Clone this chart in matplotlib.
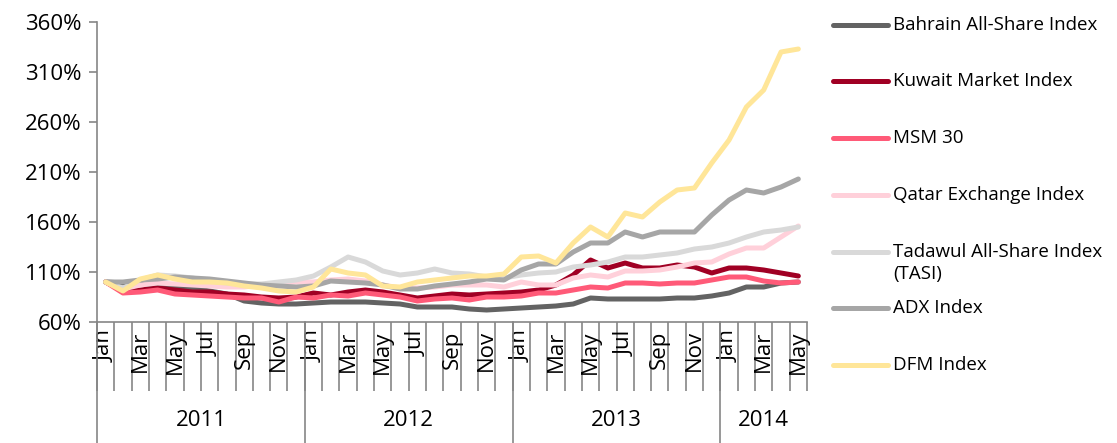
import matplotlib
matplotlib.use('Agg')
import matplotlib.pyplot as plt
import matplotlib.transforms as mtransforms
from matplotlib.lines import Line2D

plt.rcParams['font.family'] = ['Open Sans', 'DejaVu Sans']

# categories
years = ['2011', '2012', '2013', '2014']
months_per_year = [12, 12, 12, 5]
month_names = ['Jan', 'Feb', 'Mar', 'Apr', 'May', 'Jun',
               'Jul', 'Aug', 'Sep', 'Oct', 'Nov', 'Dec']
shown_months = ['Jan', 'Mar', 'May', 'Jul', 'Sep', 'Nov']

# index values (Jan 2011 = 100%)
bahrain = [100, 99, 98, 97, 96, 94, 91, 88, 81, 79, 78, 78,
           79, 80, 80, 80, 79, 78, 75, 75, 75, 73, 72, 73,
           74, 75, 76, 78, 84, 83, 83, 83, 83, 84, 84, 86,
           89, 95, 95, 99, 100]
kuwait = [100, 91, 92, 94, 92, 90, 90, 88, 87, 85, 84, 85,
          89, 87, 90, 92, 90, 87, 84, 86, 88, 87, 88, 89,
          90, 92, 97, 107, 122, 114, 119, 114, 114, 117, 115, 109,
          114, 114, 112, 109, 106]
msm30 = [100, 89, 90, 92, 88, 87, 86, 85, 84, 84, 80, 85,
         84, 87, 86, 89, 87, 85, 81, 83, 84, 82, 85, 85,
         86, 89, 89, 92, 95, 94, 99, 99, 98, 99, 99, 102,
         105, 105, 101, 99, 100]
qatar = [100, 93, 97, 99, 98, 97, 96, 95, 95, 97, 99, 100,
         100, 102, 103, 101, 97, 94, 94, 95, 97, 97, 97, 95,
         100, 97, 97, 104, 107, 105, 111, 111, 112, 115, 119, 120,
         128, 134, 134, 145, 156]
tadawul = [100, 94, 102, 107, 106, 104, 101, 99, 98, 98, 100, 102,
           106, 115, 125, 120, 111, 107, 109, 113, 109, 108, 105, 104,
           107, 109, 110, 115, 117, 120, 125, 125, 127, 129, 133, 135,
           139, 145, 150, 152, 155]
adx = [100, 100, 102, 103, 105, 104, 103, 101, 99, 97, 96, 95,
       96, 101, 100, 99, 97, 93, 93, 96, 98, 100, 103, 102,
       112, 118, 118, 130, 139, 139, 150, 145, 150, 150, 150, 167,
       182, 192, 189, 195, 203]
dfm = [100, 91, 103, 107, 103, 100, 100, 99, 96, 94, 91, 90,
       95, 113, 109, 107, 96, 95, 100, 102, 104, 106, 106, 108,
       125, 126, 119, 139, 155, 145, 169, 165, 180, 192, 194, 219,
       242, 275, 292, 330, 333]

series = [
    ('Bahrain All-Share Index', bahrain, '#636363'),
    ('Kuwait Market Index', kuwait, '#a00024'),
    ('MSM 30', msm30, '#ff5a78'),
    ('Qatar Exchange Index', qatar, '#ffd0da'),
    ('Tadawul All-Share Index\n(TASI)', tadawul, '#d9d9d9'),
    ('ADX Index', adx, '#a6a6a6'),
    ('DFM Index', dfm, '#ffe699'),
]

W, H = 1117, 443
fig = plt.figure(figsize=(W / 100, H / 100), dpi=100)
ax = fig.add_axes([97 / W, 1 - 322 / H, (807 - 97) / W, 300 / H])

n = sum(months_per_year)
x = list(range(n))
for name, vals, col in series:
    ax.plot(x, vals, color=col, lw=3.6, solid_joinstyle='round',
            solid_capstyle='round', clip_on=False)

ax.set_xlim(-0.5, n - 0.5)
ax.set_ylim(60, 360)
ax.set_yticks(range(60, 361, 50))
ax.set_yticklabels(['%d%%' % v for v in range(60, 361, 50)], fontsize=16)

for s in ['top', 'right']:
    ax.spines[s].set_visible(False)
for s in ['left', 'bottom']:
    ax.spines[s].set_color('#868686')
    ax.spines[s].set_linewidth(1.2)
ax.tick_params(axis='y', length=6, color='#868686', width=1.2, pad=5)

# month boundary ticks
ax.set_xticks([i - 0.5 for i in range(n + 1)])
ax.set_xticklabels([])
ax.tick_params(axis='x', which='major', length=50, color='#868686', width=1.2)

# month labels
labels = []
for ny in months_per_year:
    for m in range(ny):
        labels.append(month_names[m] if month_names[m] in shown_months else '')
ax.set_xticks(x, minor=True)
ax.set_xticklabels(labels, minor=True, rotation=90, fontsize=16, va='top')
ax.tick_params(axis='x', which='minor', length=0, pad=6)

# year groups
trans = mtransforms.blended_transform_factory(ax.transData, ax.transAxes)
start = 0
for yr, ny in zip(years, months_per_year):
    ax.plot([start - 0.5, start - 0.5], [0, -121 / 300], transform=trans,
            color='#868686', lw=1.2, clip_on=False)
    ax.text(start - 0.5 + ny / 2, -98 / 300, yr, transform=trans,
            ha='center', va='center', fontsize=16)
    start += ny

# legend drawn by hand
leg_y = [25, 81, 138, 195, 252, 308, 365]
for (name, vals, col), ly in zip(series, leg_y):
    fy = 1 - ly / H
    fig.add_artist(Line2D([833 / W, 888 / W], [fy, fy], color=col, lw=3.6,
                          solid_capstyle='round', transform=fig.transFigure))
    fig.text(893 / W, fy + 9 / H, name, ha='left', va='top', fontsize=13.5,
             linespacing=1.3)

fig.savefig('out.png', dpi=100)
